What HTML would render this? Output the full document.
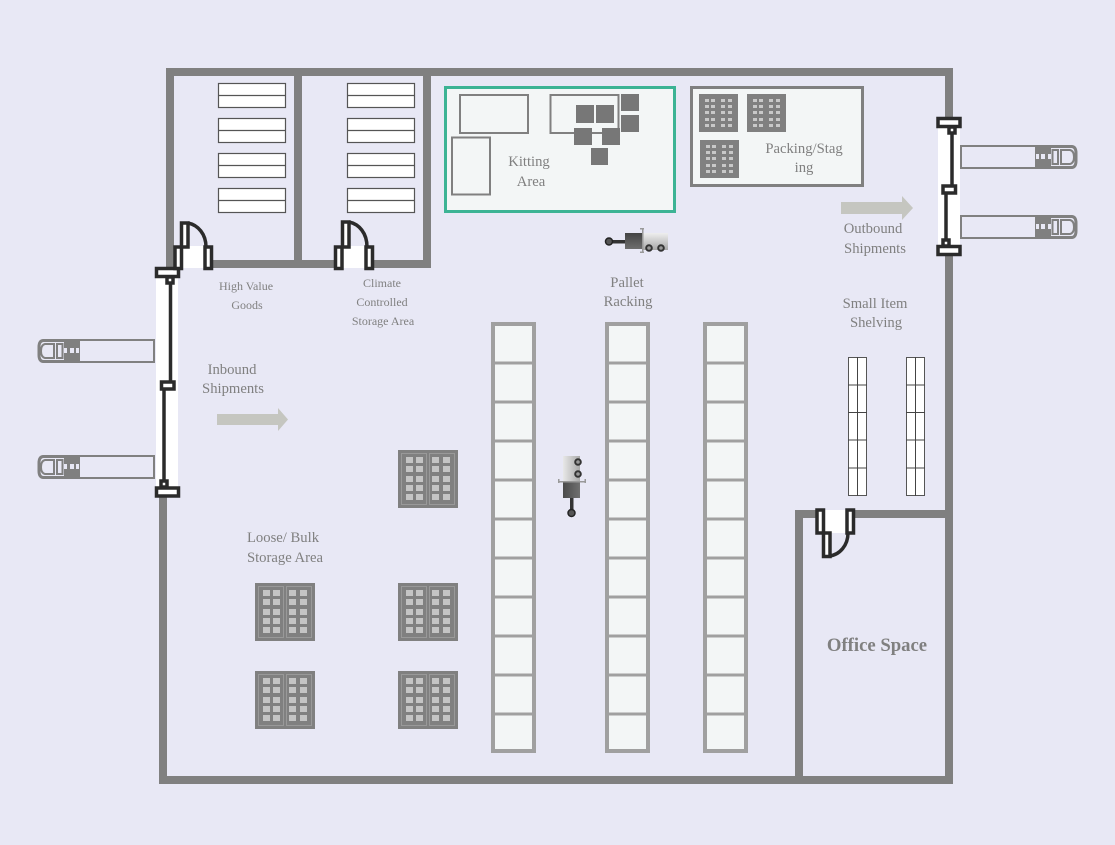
<!DOCTYPE html>
<html><head><meta charset="utf-8">
<style>
html,body{margin:0;padding:0;background:#e8e8f5}
svg{display:block}
text{font-family:"Liberation Serif",serif;fill:#808080;text-anchor:middle}
.s14{font-size:14.67px}.s12{font-size:12px}
</style></head>
<body>
<svg width="1115" height="845" viewBox="0 0 1115 845" xmlns="http://www.w3.org/2000/svg">
<defs>
<g id="shelf"><rect x="0.5" y="0.5" width="67" height="24" fill="#fff" stroke="#555" stroke-width="1.2"/><line x1="0" x2="68" y1="12.5" y2="12.5" stroke="#555" stroke-width="1.2"/></g>
<g id="pack"><rect width="39" height="38" fill="#808080"/>
<g fill="#c8c8c8">
<rect x="6" y="5" width="4" height="3"/><rect x="12" y="5" width="4" height="3"/><rect x="22" y="5" width="4" height="3"/><rect x="29" y="5" width="4" height="3"/>
<rect x="6" y="11" width="4" height="3"/><rect x="12" y="11" width="4" height="3"/><rect x="22" y="11" width="4" height="3"/><rect x="29" y="11" width="4" height="3"/>
<rect x="6" y="17" width="4" height="3"/><rect x="12" y="17" width="4" height="3"/><rect x="22" y="17" width="4" height="3"/><rect x="29" y="17" width="4" height="3"/>
<rect x="6" y="24" width="4" height="3"/><rect x="12" y="24" width="4" height="3"/><rect x="22" y="24" width="4" height="3"/><rect x="29" y="24" width="4" height="3"/>
<rect x="6" y="30" width="4" height="3"/><rect x="12" y="30" width="4" height="3"/><rect x="22" y="30" width="4" height="3"/><rect x="29" y="30" width="4" height="3"/>
</g></g>
<g id="pallet"><rect width="60" height="58" fill="#808080"/>
<rect x="3.5" y="3.5" width="25" height="51" fill="none" stroke="#999" stroke-width="1"/><rect x="31.5" y="3.5" width="25" height="51" fill="none" stroke="#999" stroke-width="1"/>
<g fill="#c4c4c4">
<rect x="8" y="7" width="7" height="6"/><rect x="18" y="7" width="7" height="6"/><rect x="34" y="7" width="7" height="6"/><rect x="45" y="7" width="7" height="6"/>
<rect x="8" y="16" width="7" height="6"/><rect x="18" y="16" width="7" height="6"/><rect x="34" y="16" width="7" height="6"/><rect x="45" y="16" width="7" height="6"/>
<rect x="8" y="26" width="7" height="6"/><rect x="18" y="26" width="7" height="6"/><rect x="34" y="26" width="7" height="6"/><rect x="45" y="26" width="7" height="6"/>
<rect x="8" y="35" width="7" height="6"/><rect x="18" y="35" width="7" height="6"/><rect x="34" y="35" width="7" height="6"/><rect x="45" y="35" width="7" height="6"/>
<rect x="8" y="44" width="7" height="6"/><rect x="18" y="44" width="7" height="6"/><rect x="34" y="44" width="7" height="6"/><rect x="45" y="44" width="7" height="6"/>
</g></g>
<g id="rack"><rect x="2" y="2" width="41" height="427" fill="#f3f6f6" stroke="#a0a0a0" stroke-width="4"/>
<g stroke="#a0a0a0" stroke-width="3">
<line x1="0" x2="45" y1="41" y2="41"/><line x1="0" x2="45" y1="80" y2="80"/><line x1="0" x2="45" y1="119" y2="119"/><line x1="0" x2="45" y1="158" y2="158"/><line x1="0" x2="45" y1="197" y2="197"/><line x1="0" x2="45" y1="236" y2="236"/><line x1="0" x2="45" y1="275" y2="275"/><line x1="0" x2="45" y1="314" y2="314"/><line x1="0" x2="45" y1="353" y2="353"/><line x1="0" x2="45" y1="392" y2="392"/>
</g></g>
<g id="smallshelf"><rect x="0.5" y="0.5" width="18" height="138" fill="#fff" stroke="#555" stroke-width="1"/>
<g stroke="#444" stroke-width="1"><line x1="9.5" x2="9.5" y1="0" y2="139"/><line x1="0" x2="19" y1="28" y2="28"/><line x1="0" x2="19" y1="55.500" y2="55.500"/><line x1="0" x2="19" y1="83" y2="83"/><line x1="0" x2="19" y1="111" y2="111"/></g></g>
<g id="truck"><rect x="1" y="1" width="75" height="22" fill="#e8e8f5" stroke="#808080" stroke-width="2"/>
<rect x="76" y="0" width="15" height="24" fill="#808080"/><rect x="81" y="9" width="4" height="5" fill="#e8e8f5"/><rect x="76" y="9" width="3" height="5" fill="#e8e8f5"/><rect x="88" y="9" width="3" height="5" fill="#e8e8f5"/>
<path d="M91 1.500H112Q116 2 116 8V16Q116 22 112 22.500H91" fill="none" stroke="#808080" stroke-width="3"/>
<rect x="92.500" y="5" width="5.500" height="14" fill="#e8e8f5" stroke="#808080" stroke-width="2"/>
<path d="M101 5H110Q114 6 114 12Q114 18 110 19H101Z" fill="#e8e8f5" stroke="#808080" stroke-width="2"/></g>
<linearGradient id="body" x1="0" y1="0" x2="0" y2="1"><stop offset="0" stop-color="#eee"/><stop offset="1" stop-color="#a8a8a8"/></linearGradient>
<linearGradient id="dark" x1="0" y1="0" x2="0" y2="1"><stop offset="0" stop-color="#444"/><stop offset="1" stop-color="#6e6e6e"/></linearGradient>
<linearGradient id="bodyv" x1="0" y1="0" x2="1" y2="0"><stop offset="0" stop-color="#e8e8e8"/><stop offset="1" stop-color="#a8a8a8"/></linearGradient>
<linearGradient id="darkv" x1="0" y1="0" x2="1" y2="0"><stop offset="0" stop-color="#4a4a4a"/><stop offset="1" stop-color="#707070"/></linearGradient>
</defs>

<rect width="1115" height="845" fill="#e8e8f5"/>

<!-- walls -->
<g fill="#808080">
<rect x="166" y="68" width="787" height="8"/>
<rect x="166" y="68" width="8" height="200"/>
<rect x="294" y="68" width="8" height="200"/>
<rect x="423" y="68" width="8" height="200"/>
<rect x="166" y="260" width="265" height="8"/>
<rect x="945" y="68" width="8" height="50"/>
<rect x="945" y="255" width="8" height="529"/>
<rect x="159" y="495" width="8" height="289"/>
<rect x="159" y="776" width="794" height="8"/>
<rect x="795" y="510" width="8" height="270"/>
<rect x="795" y="510" width="155" height="8"/>
</g>

<!-- shelves -->
<use href="#shelf" x="218" y="83"/><use href="#shelf" x="218" y="118"/><use href="#shelf" x="218" y="153"/><use href="#shelf" x="218" y="188"/>
<use href="#shelf" x="347" y="83"/><use href="#shelf" x="347" y="118"/><use href="#shelf" x="347" y="153"/><use href="#shelf" x="347" y="188"/>

<!-- kitting -->
<rect x="445.500" y="87.500" width="229" height="124" fill="#f3f6f6" stroke="#3cb394" stroke-width="3"/>
<g fill="none" stroke="#808080" stroke-width="2">
<rect x="460" y="95" width="68" height="38"/><rect x="452" y="137.500" width="38" height="57"/><rect x="550.500" y="95" width="68" height="38"/>
</g>
<g fill="#777">
<rect x="576" y="105" width="18" height="18"/><rect x="596" y="105" width="18" height="18"/><rect x="574" y="128" width="18" height="17"/><rect x="602" y="128" width="18" height="17"/><rect x="591" y="148" width="17" height="17"/><rect x="621" y="94" width="18" height="17"/><rect x="621" y="115" width="18" height="17"/>
</g>
<text class="s14" x="529" y="166">Kitting</text>
<text class="s14" x="531" y="186">Area</text>

<!-- packing -->
<rect x="691.500" y="87.500" width="171" height="98" fill="#f3f6f6" stroke="#808080" stroke-width="3"/>
<use href="#pack" x="699" y="94"/><use href="#pack" x="747" y="94"/><use href="#pack" x="700" y="140"/>
<text class="s14" x="804" y="153">Packing/Stag</text>
<text class="s14" x="804" y="172">ing</text>

<!-- racks -->
<use href="#rack" x="491" y="322"/><use href="#rack" x="605" y="322"/><use href="#rack" x="703" y="322"/>

<!-- small shelving -->
<use href="#smallshelf" x="848" y="357"/><use href="#smallshelf" x="906" y="357"/>

<!-- pallets -->
<use href="#pallet" x="398" y="450"/><use href="#pallet" x="398" y="583"/><use href="#pallet" x="398" y="671"/>
<use href="#pallet" x="255" y="583"/><use href="#pallet" x="255" y="671"/>

<!-- trucks -->
<use href="#truck" x="960" y="145"/><use href="#truck" x="960" y="215"/>
<use href="#truck" transform="translate(155,339) scale(-1,1)"/>
<use href="#truck" transform="translate(155,455) scale(-1,1)"/>

<!-- big door left -->
<rect x="156" y="275" width="22" height="216" fill="#fff"/>
<g fill="#fff" stroke="#2b2b2b" stroke-width="3.500">
<rect x="156.500" y="268.500" width="22" height="8"/>
<rect x="167" y="277" width="6" height="6"/>
<rect x="161.500" y="382" width="12.500" height="7"/>
<rect x="161" y="481" width="6" height="6"/>
<rect x="156.500" y="488" width="22" height="8"/>
</g>
<g stroke="#2b2b2b" stroke-width="3.500"><line x1="170.500" x2="170.500" y1="283" y2="382"/><line x1="164" x2="164" y1="389" y2="481"/></g>

<!-- big door right -->
<rect x="938" y="125" width="22" height="125" fill="#fff"/>
<g fill="#fff" stroke="#2b2b2b" stroke-width="3.500">
<rect x="938" y="118.500" width="22" height="8"/>
<rect x="949" y="127" width="6" height="6"/>
<rect x="943" y="186" width="12.500" height="7"/>
<rect x="943" y="240" width="6" height="6"/>
<rect x="938" y="246.500" width="22" height="8"/>
</g>
<g stroke="#2b2b2b" stroke-width="3.500"><line x1="952" x2="952" y1="133" y2="186"/><line x1="946" x2="946" y1="193" y2="240"/></g>

<!-- High value door -->
<rect x="175" y="246" width="35" height="22" fill="#fff"/>
<path d="M188 223C198 225 206 234 206 247" fill="none" stroke="#2b2b2b" stroke-width="3.500"/>
<g fill="#fff" stroke="#2b2b2b" stroke-width="3.500">
<rect x="175" y="247" width="6.500" height="21.500"/><rect x="205" y="247" width="6.500" height="21.500"/><rect x="181.500" y="223" width="6.500" height="24"/>
</g>

<!-- Climate door -->
<rect x="336" y="246" width="35" height="22" fill="#fff"/>
<path d="M349 222C359 224 367 233 367 247" fill="none" stroke="#2b2b2b" stroke-width="3.500"/>
<g fill="#fff" stroke="#2b2b2b" stroke-width="3.500">
<rect x="335.500" y="247" width="6.500" height="21.500"/><rect x="366" y="247" width="6.500" height="21.500"/><rect x="342.500" y="222" width="6.500" height="25"/>
</g>

<!-- Office door -->
<rect x="818" y="510" width="34" height="23" fill="#fff"/>
<path d="M848 533C848 545 840 555 829 556" fill="none" stroke="#2b2b2b" stroke-width="3.500"/>
<g fill="#fff" stroke="#2b2b2b" stroke-width="3.500">
<rect x="817" y="510" width="6.500" height="23"/><rect x="847" y="510" width="6.500" height="23"/><rect x="823.500" y="533" width="6.500" height="23.500"/>
</g>

<!-- arrows -->
<path d="M217 414H278V408L288 419.500L278 431V425H217Z" fill="#c5c6c0"/>
<path d="M841 202H902V196L913 208L902 220V214H841Z" fill="#c5c6c0"/>

<!-- forklift horizontal -->
<g>
<rect x="610" y="240" width="16" height="3.500" fill="#333"/>
<circle cx="609" cy="241.500" r="3.500" fill="#555" stroke="#222" stroke-width="1.500"/>
<rect x="625" y="233" width="17" height="16" fill="url(#dark)"/>
<rect x="643" y="233" width="25" height="17" fill="url(#body)"/>
<rect x="642" y="228" width="1.500" height="25" fill="#999"/>
<rect x="640" y="228" width="4" height="1.500" fill="#999"/><rect x="640" y="251.500" width="4" height="1.500" fill="#999"/>
<circle cx="649" cy="248" r="2.800" fill="#999" stroke="#333" stroke-width="2"/>
<circle cx="661" cy="248" r="2.800" fill="#999" stroke="#333" stroke-width="2"/>
</g>

<!-- forklift vertical -->
<g>
<rect x="570" y="497" width="3.500" height="14" fill="#333"/>
<circle cx="571.500" cy="513" r="3.500" fill="#555" stroke="#222" stroke-width="1.500"/>
<rect x="563" y="482" width="17" height="16" fill="url(#darkv)"/>
<rect x="563" y="456" width="17" height="25" fill="url(#bodyv)"/>
<rect x="558" y="481" width="28" height="1.500" fill="#999"/>
<rect x="558" y="479" width="1.500" height="4" fill="#999"/><rect x="584.500" y="479" width="1.500" height="4" fill="#999"/>
<circle cx="578" cy="462" r="2.800" fill="#999" stroke="#333" stroke-width="2"/>
<circle cx="578" cy="474" r="2.800" fill="#999" stroke="#333" stroke-width="2"/>
</g>

<!-- labels -->
<text class="s12" x="246" y="290">High Value</text>
<text class="s12" x="247" y="309">Goods</text>
<text class="s12" x="382" y="287">Climate</text>
<text class="s12" x="382" y="306">Controlled</text>
<text class="s12" x="383" y="325">Storage Area</text>
<text class="s14" x="627" y="287">Pallet</text>
<text class="s14" x="628" y="306">Racking</text>
<text class="s14" x="873" y="233">Outbound</text>
<text class="s14" x="875" y="253">Shipments</text>
<text class="s14" x="875" y="308">Small Item</text>
<text class="s14" x="876" y="327">Shelving</text>
<text class="s14" x="232" y="374">Inbound</text>
<text class="s14" x="233" y="393">Shipments</text>
<text class="s14" x="283" y="542">Loose/ Bulk</text>
<text class="s14" x="285" y="562">Storage Area</text>
<text x="877" y="651" style="font-size:18.700px;font-weight:bold">Office Space</text>
</svg>
</body></html>
